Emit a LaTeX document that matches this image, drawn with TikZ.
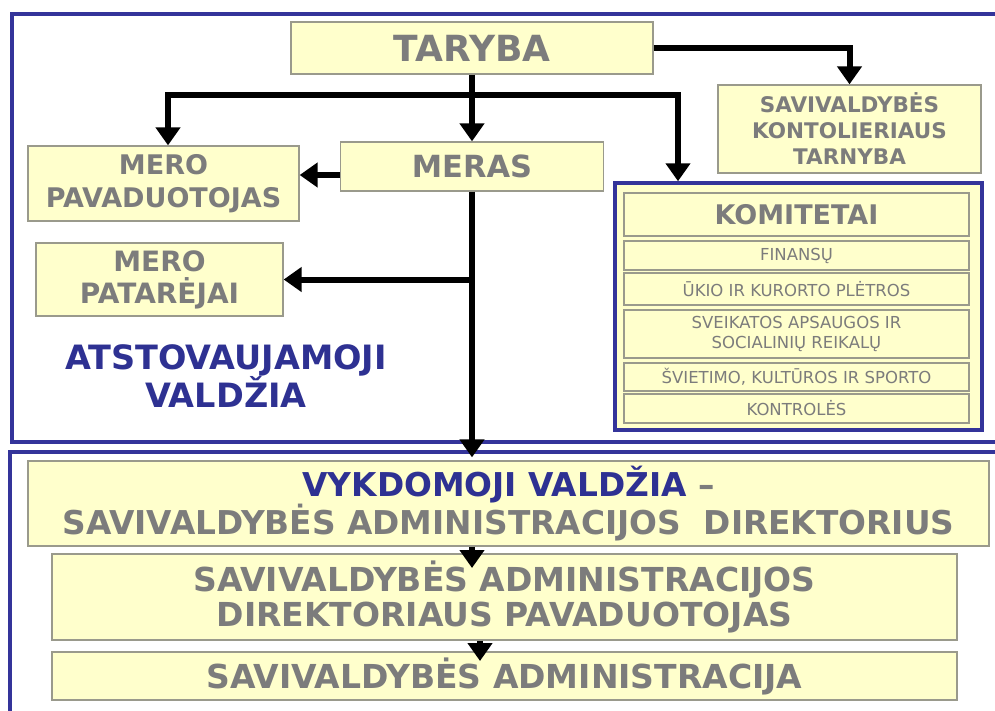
\documentclass[tikz,border=0pt]{standalone}
\usepackage{fontspec}
\setmainfont{DejaVu Sans}
\usetikzlibrary{arrows.meta,calc}
\definecolor{boxfill}{HTML}{FFFFCC}
\definecolor{boxline}{HTML}{9A9A8C}
\definecolor{txtgray}{HTML}{7C7C7C}
\definecolor{frameblue}{HTML}{34349A}
\definecolor{titleblue}{HTML}{2E3192}
\newcommand\fsz[2]{\fontsize{#1}{#2}\selectfont}
\begin{document}
\begin{tikzpicture}[x=1pt,y=-1pt,
  box/.style={draw=boxline, fill=boxfill, line width=1.3pt, inner sep=0pt,
    text=txtgray, align=center},
  rowbox/.style={box, minimum width=345pt},
  frame/.style={draw=frameblue, line width=4pt},
  arr/.style={draw=black, line width=6pt, line join=miter,
    -{Triangle[width=24pt,length=18pt]}}]
\useasboundingbox (0,0) rectangle (995,710);
\clip (0,0) rectangle (995,710);
% frames
\draw[frame] (12,14) rectangle (1012,442);
\draw[frame] (10,452) rectangle (1012,730);
% top boxes
\node[box, minimum width=362pt, minimum height=52pt, font=\bfseries\fsz{36}{40}] (taryba) at (472,48) {TARYBA};
\node[box, minimum width=263pt, minimum height=49pt, font=\bfseries\fsz{30.5}{33}] (meras) at (472,166.5) {MERAS};
\node[box, minimum width=271pt, minimum height=75pt, font=\bfseries\fsz{27}{33}] (meropav) at (163.5,183.5) {MERO\\PAVADUOTOJAS};
\node[box, minimum width=247pt, minimum height=73pt, font=\bfseries\fsz{28}{32}] (meropat) at (159.5,279.5) {MERO\\PATARĖJAI};
\node[box, minimum width=263pt, minimum height=88pt, font=\bfseries\fsz{21.5}{26}] (kontr) at (849.5,129) {SAVIVALDYBĖS\\KONTOLIERIAUS\\TARNYBA};
% committees
\node[draw=frameblue, fill=boxfill, line width=3.5pt, minimum width=367pt, minimum height=247pt, inner sep=0pt] (komframe) at (798.5,306.5) {};
\node[rowbox, minimum height=43pt, font=\bfseries\fsz{27}{30}] (komitetai) at (796.5,214.5) {KOMITETAI};
\node[rowbox, minimum height=29pt, font=\fsz{16.5}{20}] (finansu) at (796.5,255.5) {FINANSŲ};
\node[rowbox, minimum height=32pt, font=\fsz{16.5}{20}] (ukio) at (796.5,289) {ŪKIO IR KURORTO PLĖTROS};
\node[rowbox, minimum height=48pt, font=\fsz{16.5}{20}] (sveik) at (796.5,334) {SVEIKATOS APSAUGOS IR\\SOCIALINIŲ REIKALŲ};
\node[rowbox, minimum height=28pt, font=\fsz{16.5}{20}] (svietimo) at (796.5,377) {ŠVIETIMO, KULTŪROS IR SPORTO};
\node[rowbox, minimum height=29pt, font=\fsz{16.5}{20}] (kontroles) at (796.5,408.5) {KONTROLĖS};
% label
\node[text=titleblue, align=center, font=\bfseries\fsz{33.5}{37}, inner sep=0pt] (atst) at (226,376) {ATSTOVAUJAMOJI\\VALDŽIA};
% bottom boxes
\node[box, minimum width=961pt, minimum height=85pt, font=\bfseries\fsz{32.8}{38}] (vyk) at (508.5,503.5) {{\color{titleblue}VYKDOMOJI VALDŽIA} –\\SAVIVALDYBĖS ADMINISTRACIJOS\ \ DIREKTORIUS};
\node[box, minimum width=905pt, minimum height=86pt, font=\bfseries\fsz{33}{35}] (adm2) at (504.5,597) {SAVIVALDYBĖS ADMINISTRACIJOS\\DIREKTORIAUS PAVADUOTOJAS};
\node[box, minimum width=905pt, minimum height=48pt, font=\bfseries\fsz{33}{36}] (adm3) at (504.5,676) {SAVIVALDYBĖS ADMINISTRACIJA};
% connectors
\coordinate (j1) at (472,95);
\draw[arr] (taryba.south) -- (meras.north);
\draw[arr] (j1) -| ([xshift=4.5pt]meropav.north);
\draw[arr] (j1) -| ([xshift=-120.5pt]komframe.north);
\draw[arr] (taryba.east) -| (kontr.north);
\draw[arr] ([yshift=-8.5pt]meras.west) -- ([yshift=-8.5pt]meras.west -| meropav.east);
\coordinate (j2) at (meras.south |- meropat.east);
\draw[arr, shorten >=3pt] (meras.south) -- (meras.south |- vyk.north);
\draw[arr] (j2) -- (meropat.east);
\coordinate (t1) at (472,568);
\coordinate (t2) at (480,661);
\draw[arr] (vyk.south -| t1) -- (t1);
\draw[arr] (adm2.south -| t2) -- (t2);
\end{tikzpicture}
\end{document}
